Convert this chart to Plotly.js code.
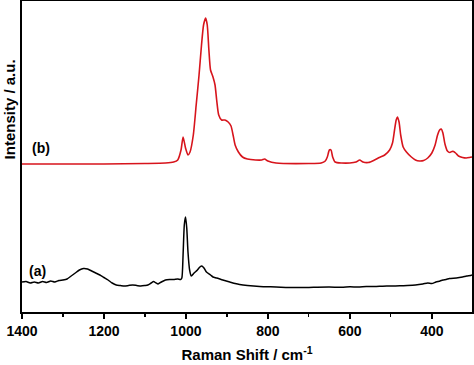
<!DOCTYPE html>
<html><head><meta charset="utf-8">
<script src="https://cdn.plot.ly/plotly-3.0.1.min.js"></script>
<style>html,body{margin:0;padding:0;background:#fff}#chart{width:474px;height:365px}</style>
</head><body><div id="chart"></div>
<script>
// Spectrum (b): Raman shift (cm-1) and intensity (a.u.)
const shiftB = [1400,1300,1200,1100,1050,1030,1020,1012,1007,1001,995,990,982,975,968,962,957,952,948,944,940,934,929,925,920,913,905,897,890,885,880,872,862,850,830,815,808,800,780,700,670,660,655,650,646,642,636,620,600,585,576,568,555,540,528,515,503,496,491,487,484,480,476,470,462,450,440,430,420,410,400,392,386,381,377,373,368,362,356,351,347,342,335,325,316,308,302];
const intB = [148,148,148,148.5,149,150,152,162,175,164,157,160,177,207,237,267,287,294,287,262,242,235,227,212,197,192,192,190,186,177,167,160,155,153,152,152,153,151,149,148.5,149,151,155,162,162,155,150,149,149,150,152,150,149.5,152,154.5,157,162,169,182,192,195,190,177,165,160,155,152,151,151.5,154,159,167,177,182,183,179,168,161,159.5,160.5,160.5,159,156,154.5,154,154.5,155];
// Spectrum (a)
const shiftA = [1400,1390,1380,1370,1360,1350,1340,1330,1320,1310,1300,1290,1280,1270,1260,1250,1240,1230,1220,1210,1200,1190,1180,1170,1160,1150,1140,1130,1120,1110,1100,1093,1085,1079,1073,1068,1060,1050,1040,1030,1020,1013,1010,1007,1004,1001,998,995,991,987,980,972,966,961,956,950,940,934,925,910,893,880,869,850,820,780,750,722,700,680,650,620,600,580,560,540,520,500,478,460,440,422,410,400,390,380,373,365,357,340,325,315,305,302];
const intA = [30,30.5,29,30,29,30.5,29.5,31,30,31.5,32,33,36,39,42,43.5,43,41,39,37,34.5,32,29,27,26.5,26,26.5,27,26.5,26,26.5,27,29,30.5,29,28,30,32,32.5,32.5,33,32.5,34,57,87,95,84,60,42,36,39,42,45,46,44,40,37,35,34,32,30,28.5,27.5,26.5,25.5,25,24.5,24.5,24.5,24.8,25,24.7,25.2,25,25.5,25.5,25.8,26,26.2,26.5,27,28,29,28.5,30,31,32,32.5,33.5,34,35,36,36.5,37];
const labels = ["(b)", "(a)"];
const labelShift = [1354, 1362];
const labelInt = [164, 41];

const traces = [
  {x: shiftB, y: intB, type: 'scatter', mode: 'lines', line: {color: '#d7141c', width: 1.6, shape: 'spline', smoothing: 0.6}, hoverinfo: 'skip'},
  {x: shiftA, y: intA, type: 'scatter', mode: 'lines', line: {color: '#000000', width: 1.5, shape: 'spline', smoothing: 0.6}, hoverinfo: 'skip'}
];
const F = 'Liberation Sans, Arial, sans-serif';
const layout = {
  width: 474, height: 365,
  margin: {l: 22, r: 2, t: 1, b: 53},
  paper_bgcolor: '#fff', plot_bgcolor: '#fff',
  showlegend: false,
  xaxis: {
    range: [1400, 302], showgrid: false, zeroline: false,
    showline: true, linecolor: '#000', linewidth: 2, mirror: true,
    ticks: 'outside', ticklen: 5, tickwidth: 1.5, tickcolor: '#000',
    tickvals: [1400, 1200, 1000, 800, 600, 400],
    minor: {dtick: 100, ticks: 'outside', ticklen: 3, tickwidth: 1.2, tickcolor: '#000'},
    tickfont: {family: F, size: 14, color: '#000', weight: 'bold'},
    title: {text: 'Raman Shift / cm<sup>-1</sup>', font: {family: F, size: 15, color: '#000', weight: 'bold'}, standoff: 12}
  },
  yaxis: {
    range: [0, 311], showgrid: false, zeroline: false,
    showline: true, linecolor: '#000', linewidth: 2, mirror: true,
    ticks: '', showticklabels: false
  },
  annotations: [
    {x: labelShift[0], y: labelInt[0], xref: 'x', yref: 'y', text: labels[0], showarrow: false, font: {family: F, size: 14, color: '#000', weight: 'bold'}},
    {x: labelShift[1], y: labelInt[1], xref: 'x', yref: 'y', text: labels[1], showarrow: false, font: {family: F, size: 14, color: '#000', weight: 'bold'}},
    {x: -0.0489, y: 0.653, xref: 'paper', yref: 'paper', xanchor: 'left', yanchor: 'middle', text: 'Intensity / a.u.', textangle: -90, showarrow: false, borderpad: 0, font: {family: F, size: 15, color: '#000', weight: 'bold'}}
  ]
};
Plotly.newPlot('chart', traces, layout, {displayModeBar: false, staticPlot: true});
</script></body></html>
